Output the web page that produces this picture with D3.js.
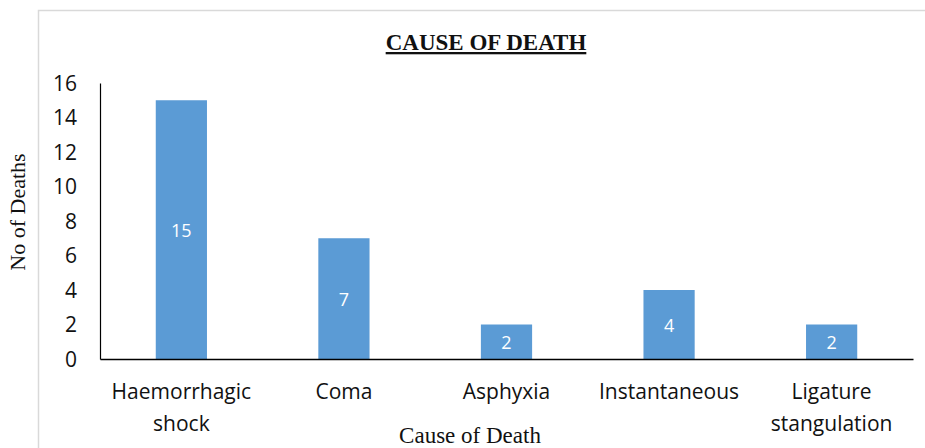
<!DOCTYPE html>
<html>
<head>
<meta charset="utf-8">
<script src="https://cdn.jsdelivr.net/npm/d3@7"></script>
<style>
  body { margin: 0; background: #fff; }
  svg { display: block; }
</style>
</head>
<body>
<div class="container"></div>
<script>
// Chart data
const categories = [["Haemorrhagic", "shock"], ["Coma"], ["Asphyxia"], ["Instantaneous"], ["Ligature", "stangulation"]];
const deaths = [15, 7, 2, 4, 2];
const yTicks = [0, 2, 4, 6, 8, 10, 12, 14, 16];

const width = 925,
    height = 448,
    margin = { top: 83, right: 12, bottom: 89, left: 100 };

const svg = d3.select(".container")
    .append("svg")
    .attr("width", width)
    .attr("height", height);

// Chart area frame (only top and left edges visible)
svg.append("path")
    .attr("d", "M38.5,448 V10.5 H925")
    .attr("fill", "none")
    .attr("stroke", "#d9d9d9")
    .attr("stroke-width", 1.5);

const x = d3.scaleBand()
    .domain(categories.map(d => d.join(" ")))
    .range([margin.left, width - margin.right])
    .paddingInner(0.685)
    .paddingOuter(0.343);

const y = d3.scaleLinear()
    .domain([0, 16])
    .range([height - margin.bottom, margin.top]);

// Title
svg.append("text")
    .attr("x", 486)
    .attr("y", 50)
    .attr("text-anchor", "middle")
    .attr("font-family", "Liberation Serif, Times New Roman, serif")
    .attr("font-weight", "bold")
    .attr("font-size", 23)
    .attr("text-decoration", "underline")
    .attr("fill", "#111")
    .text("CAUSE OF DEATH");

// Bars
svg.append("g")
    .selectAll("rect")
    .data(deaths)
    .enter()
    .append("rect")
    .attr("x", (d, i) => x(categories[i].join(" ")))
    .attr("y", d => y(d))
    .attr("width", x.bandwidth())
    .attr("height", d => y(0) - y(d))
    .attr("fill", "#5b9bd5");

// Bar value labels
svg.append("g")
    .selectAll("text")
    .data(deaths)
    .enter()
    .append("text")
    .attr("x", (d, i) => x(categories[i].join(" ")) + x.bandwidth() / 2)
    .attr("y", d => (y(d) + y(0)) / 2 + 7)
    .attr("text-anchor", "middle")
    .attr("font-family", "Open Sans, sans-serif")
    .attr("font-size", 18)
    .attr("fill", "#fff")
    .text(d => d);

// Y axis
const yAxis = svg.append("g")
    .attr("transform", `translate(${margin.left},0)`)
    .call(d3.axisLeft(y).tickValues(yTicks).tickSize(0).tickPadding(23));
yAxis.select(".domain").attr("stroke", "#000").attr("stroke-width", 1.2);
yAxis.selectAll("text")
    .attr("font-family", "Open Sans, sans-serif")
    .attr("font-size", 21)
    .attr("fill", "#111")
    .attr("dy", "0.35em");

// X axis
const xAxis = svg.append("g")
    .attr("transform", `translate(0,${y(0)})`)
    .call(d3.axisBottom(x).tickSize(0).tickFormat(""));
xAxis.select(".domain").attr("stroke", "#000").attr("stroke-width", 1.5);

// Category labels (wrapped)
const catLabels = svg.append("g")
    .selectAll("text")
    .data(categories)
    .enter()
    .append("text")
    .attr("x", d => x(d.join(" ")) + x.bandwidth() / 2)
    .attr("y", 399)
    .attr("text-anchor", "middle")
    .attr("font-family", "Open Sans, sans-serif")
    .attr("font-size", 21)
    .attr("fill", "#111");
catLabels.each(function (d) {
    const t = d3.select(this);
    d.forEach((line, i) => {
        t.append("tspan")
            .attr("x", t.attr("x"))
            .attr("dy", i === 0 ? 0 : 32)
            .text(line);
    });
});

// Axis titles
svg.append("text")
    .attr("x", 470)
    .attr("y", 443)
    .attr("text-anchor", "middle")
    .attr("font-family", "Liberation Serif, Times New Roman, serif")
    .attr("font-size", 23)
    .attr("fill", "#111")
    .text("Cause of Death");

svg.append("text")
    .attr("transform", "translate(25,212) rotate(-90)")
    .attr("text-anchor", "middle")
    .attr("font-family", "Liberation Serif, Times New Roman, serif")
    .attr("font-size", 22)
    .attr("fill", "#111")
    .text("No of Deaths");
</script>
</body>
</html>
